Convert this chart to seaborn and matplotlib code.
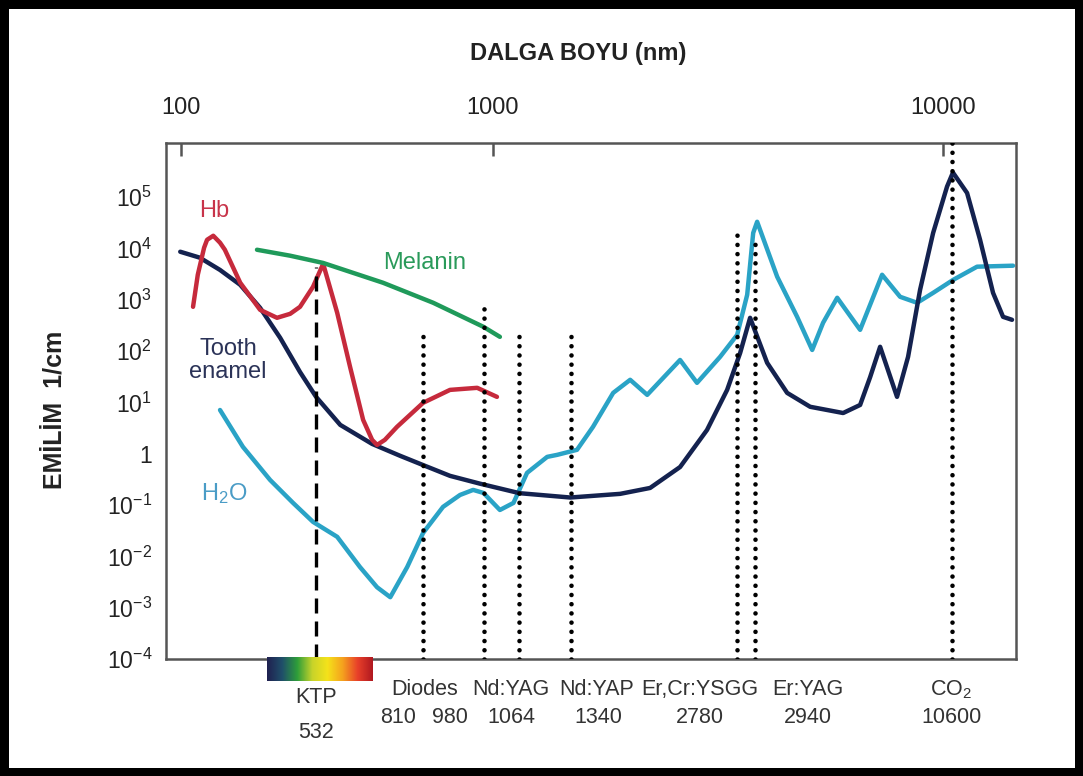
import numpy as np
import pandas as pd
import matplotlib
matplotlib.use("Agg")
import matplotlib.pyplot as plt
import seaborn as sns
from matplotlib.colors import LinearSegmentedColormap
from matplotlib.ticker import FixedLocator, NullLocator

# absorption curves, wavelength (nm) vs absorption (1/cm)
enamel_nm = [99, 126, 162, 208, 266, 341, 436, 532, 585, 663, 740, 810, 881, 968, 1066,
             1335, 1662, 1896, 2163, 2435, 2660, 2806, 2894, 3178, 3620, 4205, 5212, 5821,
             6213, 6630, 7402, 7953, 8600, 9362, 10250, 10650, 11677, 12705, 13825, 14754, 15640]
enamel_abs = [8.6e3, 6.6e3, 3.8e3, 1.95e3, 695, 181, 39, 12.8, 3.64, 1.55, 0.91, 0.6, 0.37, 0.26, 0.17,
              0.14, 0.165, 0.215, 0.55, 2.9, 17.5, 92, 444, 59, 15.3, 8.2, 6.2, 8.9,
              31, 121, 12.8, 77, 1.56e3, 2.0e4, 1.6e5, 3.0e5, 1.2e5, 1.47e4, 1.36e3, 464, 406]

hb_nm = [116, 123, 133, 138, 149, 162, 172, 208, 266, 328, 386, 436, 512, 547, 578, 608, 640, 663,
         676, 697, 731, 810, 881, 959, 1010]
hb_abs = [727, 3.06e3, 1.03e4, 1.47e4, 1.76e4, 1.29e4, 9.4e3, 2.14e3, 635, 444, 531, 727, 1.78e3,
          5.0e3, 556, 49, 4.56, 1.86, 1.48, 1.86, 3.33, 9.8, 17.5, 19.2, 12.8]

melanin_nm = [256, 386, 547, 692, 836, 978, 1017]
melanin_abs = [9.4e3, 7.2e3, 5.2e3, 2.14e3, 871, 296, 189]

water_nm = [162, 215, 301, 400, 512, 578, 632, 676, 712, 761, 810, 862, 909, 947, 978, 1017, 1050,
            1102, 1205, 1260, 1375, 1475, 1612, 1737, 1872, 2163, 2330, 2579, 2780, 2868, 2922, 2978,
            3393, 3863, 4261, 4574, 5014, 5821, 6716, 7551, 8435, 9362, 10670, 12460, 15744]
water_abs = [7.1, 1.36, 0.308, 0.11, 0.047, 0.024, 0.0062, 0.0025, 0.0016, 0.0062, 0.0286, 0.092,
             0.157, 0.197, 0.172, 0.080, 0.11, 0.423, 0.867, 0.95, 1.19, 3.33, 15.3, 27.5, 14, 67, 24,
             77, 207, 1.25e3, 2.0e4, 3.3e4, 2.8e3, 464, 105, 355, 1.09e3, 259, 3.06e3, 1.14e3, 871,
             1.36e3, 2.44e3, 4.4e3, 4.6e3]

# laser lines
laser_nm = [532, 810, 980, 1064, 1340, 2780, 2940, 10600]
laser_top = [4.3e3, 207, 795, 207, 207, 2.1e4, 1.47e4, 1.2e6]

laser_names = ["Diodes", "Nd:YAG", "Nd:YAP", "Er,Cr:YSGG", "Er:YAG", "CO$_2$"]
laser_name_at = [815, 1044, 1502, 2362, 4150, 10530]
laser_numbers = ["810", "980", "1064", "1340", "2780", "2940", "10600"]
laser_number_at = [734, 881, 1046, 1508, 2362, 4150, 10530]

x_ticks = [100, 1000, 10000]
y_ticks = [1e-4, 1e-3, 1e-2, 1e-1, 1, 1e1, 1e2, 1e3, 1e4, 1e5]
y_ticklabels = ["$10^{-4}$", "$10^{-3}$", "$10^{-2}$", "$10^{-1}$", "1",
                "$10^{1}$", "$10^{2}$", "$10^{3}$", "$10^{4}$", "$10^{5}$"]

# the wavelength axis of the original is schematic, not a clean log axis:
# piecewise-log scale through these anchor points
scale_nm = [1, 100, 532, 810, 980, 1064, 1340, 2780, 2940, 10600, 1e6]
scale_pos = [-191, 181, 316, 423, 484, 519, 571, 737, 755, 952, 1651]
LOG_NM = np.log10(scale_nm)


def fwd(x):
    x = np.clip(np.asarray(x, dtype=float), 1e-6, None)
    return np.interp(np.log10(x), LOG_NM, scale_pos)


def inv(p):
    return 10 ** np.interp(np.asarray(p, dtype=float), scale_pos, LOG_NM)


sns.set_style("white")
plt.rcParams["font.family"] = ["Liberation Sans", "DejaVu Sans"]
plt.rcParams["mathtext.default"] = "regular"

NAVY = "#14224f"
RED = "#c62a3c"
GREEN = "#1f9a5a"
TEAL = "#2aa3c6"
INK = "#222222"

fig = plt.figure(figsize=(10.83, 7.76), dpi=100)
fig.patch.set_edgecolor("black")
fig.patch.set_linewidth(12)
ax = fig.add_axes([166 / 1083, 117 / 776, 850 / 1083, 516 / 776])

ax.set_xscale("function", functions=(fwd, inv))
ax.set_yscale("log")

curves = [
    (water_nm, water_abs, TEAL),
    (enamel_nm, enamel_abs, NAVY),
    (hb_nm, hb_abs, RED),
    (melanin_nm, melanin_abs, GREEN),
]
for nm, ab, col in curves:
    df = pd.DataFrame({"nm": nm, "abs": ab})
    sns.lineplot(data=df, x="nm", y="abs", ax=ax, color=col, lw=3.2,
                 sort=False, estimator=None, solid_capstyle="round", solid_joinstyle="round")

# laser lines: KTP dashed, the rest dotted
for i, (nm, top) in enumerate(zip(laser_nm, laser_top)):
    if i == 0:
        ax.plot([nm, nm], [1e-4, top], color="black", lw=2.4, ls=(0, (4.5, 2.4)), zorder=4)
    else:
        ax.plot([nm, nm], [1e-4, top], color="black", lw=3.3, ls=(0, (0.01, 2.0)),
                dash_capstyle="round", zorder=4)

ax.set_xlim(83, 16050)
ax.set_ylim(1e-4, 1.13e6)

ax.xaxis.tick_top()
ax.xaxis.set_major_locator(FixedLocator(x_ticks))
ax.xaxis.set_minor_locator(NullLocator())
ax.set_xticklabels([str(t) for t in x_ticks])
ax.tick_params(axis="x", which="major", direction="in", length=9, width=1.8,
               color="#555555", labelsize=17, labelcolor=INK, pad=17)
ax.yaxis.set_major_locator(FixedLocator(y_ticks))
ax.yaxis.set_minor_locator(NullLocator())
ax.set_yticklabels(y_ticklabels)
ax.tick_params(axis="y", length=0, labelsize=16.5, labelcolor=INK, pad=10)

for s in ax.spines.values():
    s.set_color("#555555")
    s.set_linewidth(1.8)

ax.set_xlabel("DALGA BOYU (nm)", fontsize=17, fontweight="bold", va="center", color=INK)
ax.xaxis.set_label_position("top")
ax.xaxis.set_label_coords(0.485, 1.16)
ax.set_ylabel("EMİLİM  1/cm", fontsize=18, fontweight="bold", va="center", color=INK)
ax.yaxis.set_label_coords(-0.131, 0.483)

# curve labels
ax.text(0.057, 0.868, "Hb", color="#c8344a", fontsize=17, ha="center", va="center", transform=ax.transAxes)
ax.text(0.304, 0.767, "Melanin", color="#2a9a5a", fontsize=17, ha="center", va="center", transform=ax.transAxes)
ax.text(0.073, 0.578, "Tooth\nenamel", color="#2b3358", fontsize=17, ha="center", va="center",
        linespacing=1.05, transform=ax.transAxes)
ax.text(0.069, 0.32, "H$_2$O", color="#4a9cc6", fontsize=17, ha="center", va="center", transform=ax.transAxes)

# laser labels under the axis
xt = ax.get_xaxis_transform()
ax.text(532, -0.074, "KTP", fontsize=15.5, ha="center", va="center", color="#333333", transform=xt)
ax.text(532, -0.143, "532", fontsize=15.5, ha="center", va="center", color="#333333", transform=xt)
for name, at in zip(laser_names, laser_name_at):
    ax.text(at, -0.060, name, fontsize=15.5, ha="center", va="center", color="#333333", transform=xt)
for num, at in zip(laser_numbers, laser_number_at):
    ax.text(at, -0.114, num, fontsize=15.5, ha="center", va="center", color="#333333", transform=xt)

# visible spectrum strip under KTP
spec = LinearSegmentedColormap.from_list(
    "spec", ["#202050", "#1f4f6a", "#2e9e3a", "#c8d42a", "#f5e21a", "#f5a21e", "#e8402a", "#b01820"])
cax = fig.add_axes([267 / 1083, 95 / 776, 106 / 1083, 24 / 776])
cax.imshow(np.linspace(0, 1, 256)[None, :], aspect="auto", cmap=spec)
cax.set_axis_off()

fig.savefig("out.png", dpi=100, edgecolor="black")
